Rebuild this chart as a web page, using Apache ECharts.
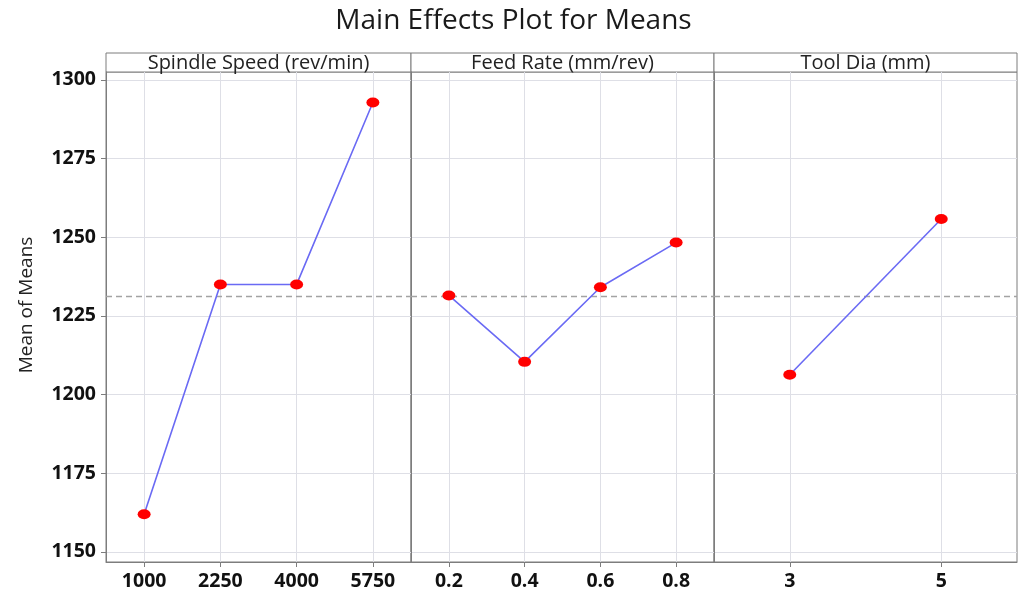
<!DOCTYPE html>
<html><head><meta charset="utf-8">
<script src="https://cdn.jsdelivr.net/npm/echarts@6/dist/echarts.min.js"></script>
<style>html,body{margin:0;padding:0;background:#fff}#c{width:1027px;height:596px}</style>
</head><body><div id="c"></div>
<script>
// ---- data ----
const chartTitle = 'Main Effects Plot for Means';
const yTitle = 'Mean of Means';
const panelTitles = ['Spindle Speed (rev/min)', 'Feed Rate (mm/rev)', 'Tool Dia (mm)'];
const spindleLevels = ['1000', '2250', '4000', '5750'];
const spindleMeans = [1162.0, 1235.0, 1235.0, 1292.8];
const feedLevels = ['0.2', '0.4', '0.6', '0.8'];
const feedMeans = [1231.5, 1210.4, 1234.1, 1248.3];
const toolLevels = ['3', '5'];
const toolMeans = [1206.3, 1255.8];
const yTicks = [1150, 1175, 1200, 1225, 1250, 1275, 1300];
const grandMean = 1231.2;

// ---- layout ----
const FONT = "'Open Sans', 'Noto Sans', sans-serif";
const W = 1027;
const panelX = [106, 411, 714, 1017];
const headerTop = 53, plotTop = 72, plotBottom = 562;
const yMin = 1146.8, yMax = 1302.5;
const borderColor = '#7d7d7d';
const gridColor = '#dedfe6';

const levelsList = [spindleLevels, feedLevels, toolLevels];
const meansList = [spindleMeans, feedMeans, toolMeans];

const grid = [], xAxis = [], yAxis = [], series = [], graphic = [];
for (let p = 0; p < 3; p++) {
  const levels = levelsList[p];
  const idx = levels.map((_, i) => i + 1);
  grid.push({
    left: panelX[p], right: W - panelX[p + 1], top: plotTop, bottom: 596 - plotBottom,
    show: true, borderColor: borderColor, borderWidth: 1, backgroundColor: '#fff'
  });
  xAxis.push({
    gridIndex: p, type: 'value', min: 0.5, max: levels.length + 0.5,
    axisLine: { show: true, lineStyle: { color: borderColor, width: 1 } },
    axisTick: { show: true, customValues: idx, length: 5, lineStyle: { color: borderColor } },
    axisLabel: {
      customValues: idx, margin: 9,
      formatter: v => levels[Math.round(v) - 1] || '',
      color: '#111', fontSize: 19.5, fontWeight: 'bold', fontFamily: FONT
    },
    splitLine: { show: true, lineStyle: { color: gridColor, width: 1 } }
  });
  yAxis.push({
    gridIndex: p, type: 'value', min: yMin, max: yMax,
    axisLine: { show: true, lineStyle: { color: borderColor, width: 1 } },
    axisTick: { show: p === 0, customValues: yTicks, length: 5, lineStyle: { color: borderColor } },
    axisLabel: {
      show: p === 0, customValues: yTicks, margin: 10,
      formatter: v => String(v),
      color: '#111', fontSize: 19.5, fontWeight: 'bold', fontFamily: FONT
    },
    splitLine: { show: true, lineStyle: { color: gridColor, width: 1 } }
  });
  series.push({
    type: 'line', xAxisIndex: p, yAxisIndex: p,
    data: meansList[p].map((v, i) => [i + 1, v]),
    symbol: 'circle', symbolSize: [13, 10],
    lineStyle: { color: '#6a6af4', width: 1.6 },
    itemStyle: { color: '#ff0000' },
    z: 5,
    markLine: {
      silent: true, symbol: 'none', label: { show: false },
      lineStyle: { color: '#a3a3a3', type: [6, 4], width: 1.3 },
      data: [{ yAxis: grandMean }]
    }
  });
  graphic.push({
    type: 'rect',
    shape: { x: panelX[p], y: headerTop, width: panelX[p + 1] - panelX[p], height: plotTop - headerTop },
    style: { fill: '#fff', stroke: borderColor, lineWidth: 1 }
  });
  graphic.push({
    type: 'text',
    x: (panelX[p] + panelX[p + 1]) / 2, y: (headerTop + plotTop) / 2 + 1,
    style: {
      text: panelTitles[p], fill: '#222', font: "20px " + FONT,
      textAlign: 'center', textVerticalAlign: 'middle'
    }
  });
}
graphic.push({
  type: 'text', x: 27, y: 305, rotation: Math.PI / 2,
  style: {
    text: yTitle, fill: '#222', font: "19px " + FONT,
    textAlign: 'center', textVerticalAlign: 'middle'
  }
});

const chart = echarts.init(document.getElementById('c'), null, { renderer: 'canvas' });
chart.setOption({
  animation: false,
  backgroundColor: '#fff',
  title: {
    text: chartTitle, left: 'center', top: 2,
    textStyle: { color: '#1a1a1a', fontSize: 28, fontWeight: 'normal', fontFamily: FONT }
  },
  grid, xAxis, yAxis, series, graphic
});
</script>
</body></html>
